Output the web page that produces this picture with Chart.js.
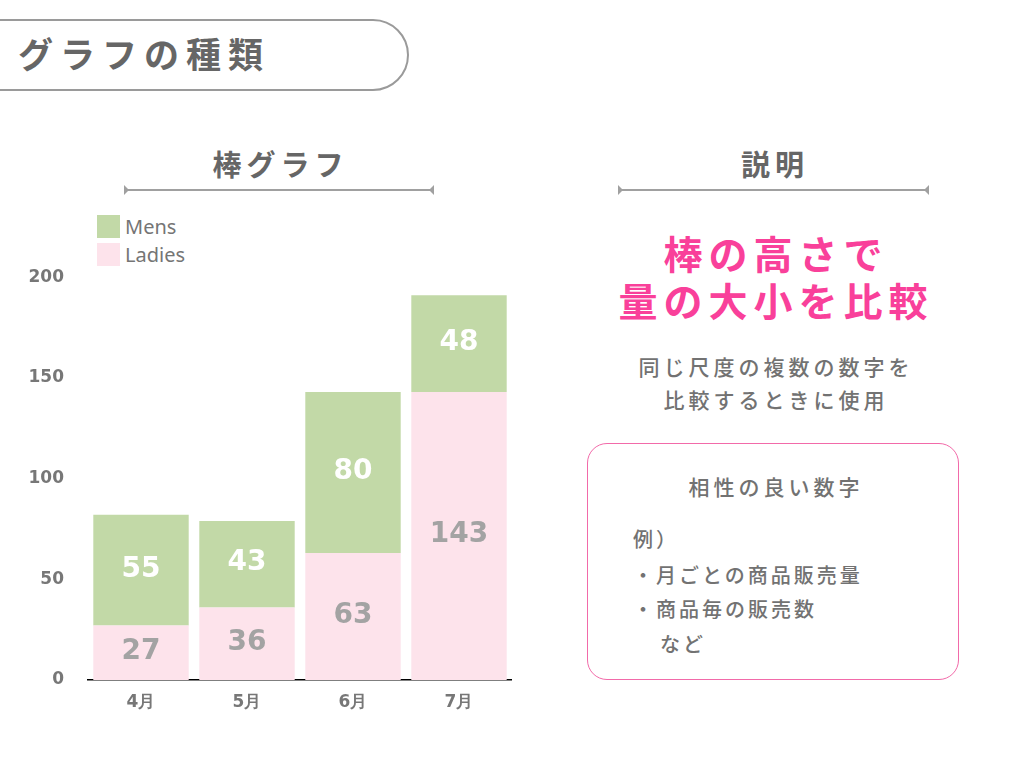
<!DOCTYPE html>
<html lang="ja">
<head>
<meta charset="utf-8">
<script src="https://cdn.jsdelivr.net/npm/chart.js@4"></script>
<style>
    body { margin: 0; width: 1024px; height: 768px; background: #fff; position: relative; overflow: hidden;
           font-family: "Noto Sans CJK JP", sans-serif; color: #6e6e6e; }
    .abs { position: absolute; }
    #pill { left: -40px; top: 19px; width: 445px; height: 68px; border: 2px solid #9a9a9a; border-radius: 0 36px 36px 0; }
    #title { left: 18px; top: 28px; font-size: 35px; font-weight: 700; letter-spacing: 7px; color: #666; line-height: 50px; }
    .head { font-size: 29px; font-weight: 700; letter-spacing: 5px; color: #666; text-align: center; line-height: 40px; }
    .rule { height: 2px; background: #a0a0a0; }
    .rule::before, .rule::after { content: ""; position: absolute; top: -4px; width: 0; height: 0;
           border-top: 5px solid transparent; border-bottom: 5px solid transparent; }
    .rule::before { left: 0; border-left: 5px solid #a0a0a0; }
    .rule::after { right: 0; border-right: 5px solid #a0a0a0; }
    .pink { color: #f9409a; font-size: 39px; font-weight: 700; letter-spacing: 6px; text-align: center; line-height: 47px; }
    .desc { font-size: 21px; letter-spacing: 4px; text-align: center; line-height: 33px; color: #727272; font-weight: 500; }
    #box { left: 587px; top: 443px; width: 370px; height: 235px; border: 1.5px solid #f26aa9; border-radius: 20px; }
    .item { font-size: 20px; letter-spacing: 3px; color: #727272; font-weight: 500; line-height: 34px; }
    #legend { left: 97px; top: 212px; font-family: "Noto Sans", sans-serif; font-size: 20px; color: #757575; }
    #legend div { display: flex; align-items: center; height: 28px; }
    #legend span.sw { display: inline-block; width: 23px; height: 23px; margin-right: 5px; }
    #chartWrap { left: 0px; top: 251px; width: 512px; height: 479px; }
</style>
</head>
<body>
<div id="pill" class="abs"></div>
<div id="title" class="abs">グラフの種類</div>

<div class="abs head" style="left:128px; top:143px; width:305px;">棒グラフ</div>
<div class="abs rule" style="left:124px; top:189px; width:310px;"></div>
<div class="abs head" style="left:620px; top:143px; width:310px;">説明</div>
<div class="abs rule" style="left:618px; top:189px; width:311px;"></div>

<div class="abs pink" style="left:590px; top:229px; width:372px;">棒の高さで<br>量の大小を比較</div>
<div class="abs desc" style="left:590px; top:350px; width:372px;">同じ尺度の複数の数字を<br>比較するときに使用</div>

<div id="box" class="abs"></div>
<div class="abs desc" style="left:590px; top:470px; width:372px;">相性の良い数字</div>
<div class="abs item" style="left:633px; top:522px;">例）</div>
<div class="abs item" style="left:633px; top:558px;">・月ごとの商品販売量</div>
<div class="abs item" style="left:633px; top:592px;">・商品毎の販売数</div>
<div class="abs item" style="left:660px; top:627px;">など</div>

<div id="legend" class="abs"></div>
<div id="chartWrap" class="abs"><canvas id="barChart"></canvas></div>

<script>
const months = ['4月', '5月', '6月', '7月'];
const ladies = [27, 36, 63, 143];
const mens = [55, 43, 80, 48];
const yTicks = [0, 50, 100, 150, 200];

const greenColor = '#c2d9a7';
const pinkColor = '#fde3eb';
const numFont = '"DejaVu Sans", sans-serif';

// legend: Mens on top, Ladies below
const legendEl = document.getElementById('legend');
[['Mens', greenColor], ['Ladies', pinkColor]].forEach(([name, color]) => {
    const row = document.createElement('div');
    row.innerHTML = `<span class="sw" style="background:${color}"></span>${name}`;
    legendEl.appendChild(row);
});

const segmentLabels = {
    id: 'segmentLabels',
    afterDatasetsDraw(chart) {
        const ctx = chart.ctx;
        ctx.save();
        ctx.font = 'bold 28px ' + numFont;
        ctx.textAlign = 'center';
        ctx.textBaseline = 'middle';
        chart.data.datasets.forEach((ds, i) => {
            const meta = chart.getDatasetMeta(i);
            ctx.fillStyle = ds.labelColor;
            meta.data.forEach((bar, j) => {
                ctx.fillText(ds.data[j], bar.x, (bar.y + bar.base) / 2 - 1);
            });
        });
        ctx.restore();
    }
};

new Chart(document.getElementById('barChart'), {
    type: 'bar',
    data: {
        labels: months,
        datasets: [{
            label: 'Ladies',
            data: ladies,
            backgroundColor: pinkColor,
            labelColor: '#a3a3a3'
        }, {
            label: 'Mens',
            data: mens,
            backgroundColor: greenColor,
            labelColor: '#ffffff'
        }]
    },
    options: {
        responsive: true,
        maintainAspectRatio: false,
        animation: false,
        layout: { padding: { top: 8, right: 0, left: 0, bottom: 0 } },
        datasets: { bar: { barPercentage: 0.9, categoryPercentage: 1 } },
        scales: {
            x: {
                stacked: true,
                grid: { display: true, drawOnChartArea: false, drawTicks: false, color: 'rgba(0,0,0,0)' },
                border: { display: true, color: '#000', width: 1.5 },
                ticks: { color: '#777', padding: 12, font: { family: numFont, weight: 'bold', size: 17 } },
                afterFit: s => { s.height = 50; }
            },
            y: {
                stacked: true,
                min: 0,
                max: 200,
                afterBuildTicks: s => { s.ticks = yTicks.map(v => ({ value: v })); },
                grid: { display: false },
                border: { display: false },
                ticks: { color: '#777', padding: 16, font: { family: numFont, weight: 'bold', size: 17 } },
                afterFit: s => { s.width = 88; }
            }
        },
        plugins: {
            legend: { display: false },
            tooltip: { enabled: false }
        }
    },
    plugins: [segmentLabels]
});
</script>
</body>
</html>
